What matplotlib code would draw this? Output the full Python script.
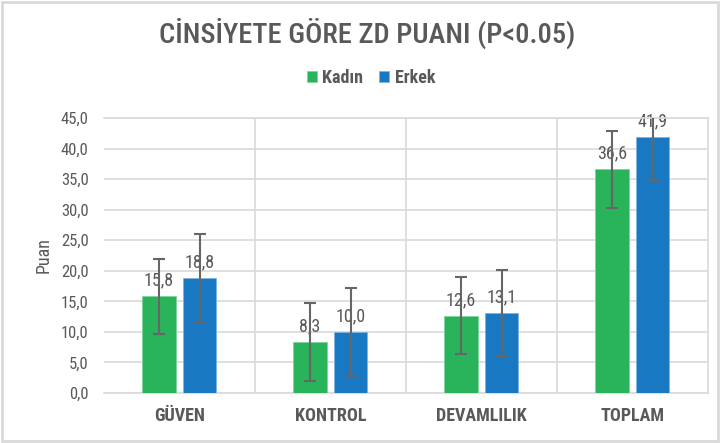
import matplotlib.pyplot as plt
from matplotlib import font_manager
import numpy as np

categories = ['GÜVEN', 'KONTROL', 'DEVAMLILIK', 'TOPLAM']
kadin = [15.8, 8.3, 12.6, 36.6]
erkek = [18.8, 10.0, 13.1, 41.9]
kadin_err = [6.2, 6.4, 6.3, 6.3]
erkek_err = [7.2, 7.2, 7.1, 7.1]
yticks = np.arange(0, 46, 5)

# look for a narrow / condensed face, the chart uses Arial Narrow
narrow = [f for f in font_manager.fontManager.ttflist
          if 'condensed' in str(f.stretch) or 'Narrow' in f.name or 'Condensed' in f.name]
narrow.sort(key=lambda f: (0 if 'Liberation' in f.name else 1 if 'Roboto' in f.name
                           else 2 if 'DejaVu' in f.name else 3))
if narrow:
    plt.rcParams['font.family'] = [narrow[0].name, 'DejaVu Sans']
    plt.rcParams['font.stretch'] = narrow[0].stretch
else:
    plt.rcParams['font.family'] = ['Liberation Sans', 'DejaVu Sans']

gray = '#595959'
grid = '#d9d9d9'
green = '#29b35a'
blue = '#1878c2'

fig = plt.figure(figsize=(7.2, 4.43), dpi=100)
ax = fig.add_axes([0.1444, 0.1129, 0.8386, 0.6207])

x = np.arange(len(categories))
w = 0.22
off = 0.135
err_kw = dict(ecolor='#666666', elinewidth=1.5, capsize=4.5, capthick=1.5)
b1 = ax.bar(x - off, kadin, w, color=green, edgecolor='#7fd39c', linewidth=0.6,
            yerr=kadin_err, error_kw=err_kw, label='Kadın', zorder=3)
b2 = ax.bar(x + off, erkek, w, color=blue, edgecolor='#7fb4e0', linewidth=0.6,
            yerr=erkek_err, error_kw=err_kw, label='Erkek', zorder=3)

for bars, vals in ((b1, kadin), (b2, erkek)):
    for r, v in zip(bars, vals):
        ax.annotate(f'{v:.1f}'.replace('.', ','), (r.get_x() + r.get_width() / 2, v),
                    xytext=(0, 5), textcoords='offset points', ha='center', va='bottom',
                    fontsize=13, color=gray, zorder=2, annotation_clip=False)

ax.set_xlim(-0.5, len(categories) - 0.5)
ax.set_ylim(0, 45)
ax.set_yticks(yticks)
ax.set_yticklabels([f'{t:.1f}'.replace('.', ',') for t in yticks], fontsize=12, color=gray)
ax.set_xticks(x)
ax.set_xticklabels(categories, fontsize=13, color=gray, fontweight='bold')
ax.tick_params(length=0, pad=10)
ax.tick_params(axis='y', pad=11)

ax.grid(axis='y', color=grid, linewidth=1.2, zorder=0)
for xv in np.arange(0.5, len(categories) - 0.5, 1):
    ax.axvline(xv, color=grid, linewidth=1.2, zorder=0)
for s in ax.spines.values():
    s.set_color(grid)
    s.set_linewidth(1.2)
ax.spines['left'].set_visible(False)

ax.set_ylabel('Puan', fontsize=13, color=gray, labelpad=6)

fig.text(0.51, 0.925, 'CİNSİYETE GÖRE ZD PUANI (P<0.05)', ha='center', va='center',
         fontsize=20.5, color=gray, fontweight='medium')
fig.legend(handles=[b1, b2], loc='center', bbox_to_anchor=(0.515, 0.824), ncol=2,
           frameon=False, handlelength=0.55, handleheight=0.55,
           handletextpad=0.3, columnspacing=0.9, labelcolor=gray,
           prop={'weight': 'bold', 'size': 13})

fig.patches.append(plt.Rectangle((0.003, 0.004), 0.994, 0.992, transform=fig.transFigure,
                                 fill=False, edgecolor=grid, linewidth=2))

fig.savefig('out.png', dpi=100)
